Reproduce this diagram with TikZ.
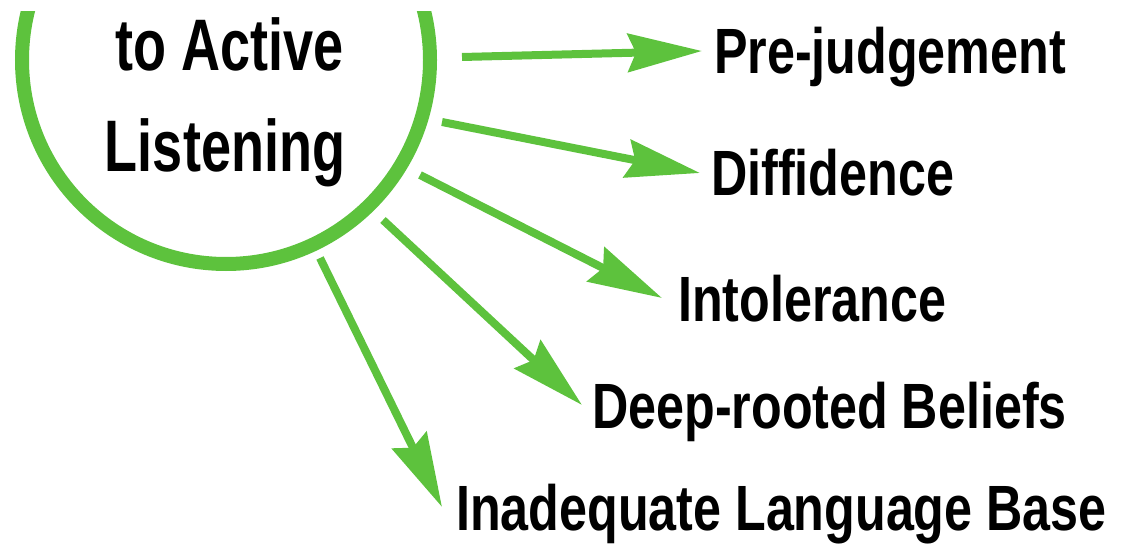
\documentclass[tikz,border=0pt]{standalone}
\usepackage{fontspec}
\newfontfamily\lblfont[FakeStretch=0.785]{Liberation Sans}
\newfontfamily\topicfont[FakeStretch=0.74]{Liberation Sans}
\usetikzlibrary{arrows.meta,positioning,calc}
\definecolor{leaf}{HTML}{5DC23D}

\begin{document}
\begin{tikzpicture}[x=1pt, y=-1pt,
  every node/.style={font=\lblfont\bfseries\fontsize{64}{64}\selectfont, inner sep=0pt},
  topic/.style={anchor=base, font=\topicfont\bfseries\fontsize{73}{73}\selectfont},
  barrier/.style={anchor=base west, text height=46pt, text depth=0pt},
  ring/.style={circle, draw=leaf, line width=14pt, minimum size=408pt},
  arr/.style={draw=leaf, line width=8pt, -{Stealth[length=74pt, width=38pt, inset=8pt]}},
]
\useasboundingbox (0,0) rectangle (1124,545);

% ring, cut at the top edge
\begin{scope}
  \clip (0,12) rectangle (1124,545);
  \node[ring] (hub) at (226,60) {};
\end{scope}

\node[topic] (topicA) at (230,71) {to Active};
\node[topic] (topicB) at (225,172) {Listening};

\node[barrier] (pre) at (714,74) {Pre-judgement};
\node[barrier] (dif) at (711,196) {Diffidence};
\node[barrier] (intol) at (678,321) {Intolerance};
\node[barrier] (deep) at (592,428) {Deep-rooted Beliefs};
\node[barrier] (lang) at (456,530) {Inadequate Language Base};

\coordinate (t1) at (462,57);
\coordinate (t2) at (442,122);
\coordinate (t3) at (420,175);
\coordinate (t4) at (383,220);
\coordinate (t5) at (320,258);

\draw[arr] (t1) -- ([xshift=-12pt]pre.west);
\draw[arr] (t2) -- ([xshift=-11pt]dif.west);
\draw[arr] (t3) -- ([xshift=-16pt]intol.west);
\draw[arr] (t4) -- ([xshift=-10pt]deep.west);
\draw[arr] (t5) -- ([xshift=-14pt]lang.west);

\end{tikzpicture}
\end{document}
